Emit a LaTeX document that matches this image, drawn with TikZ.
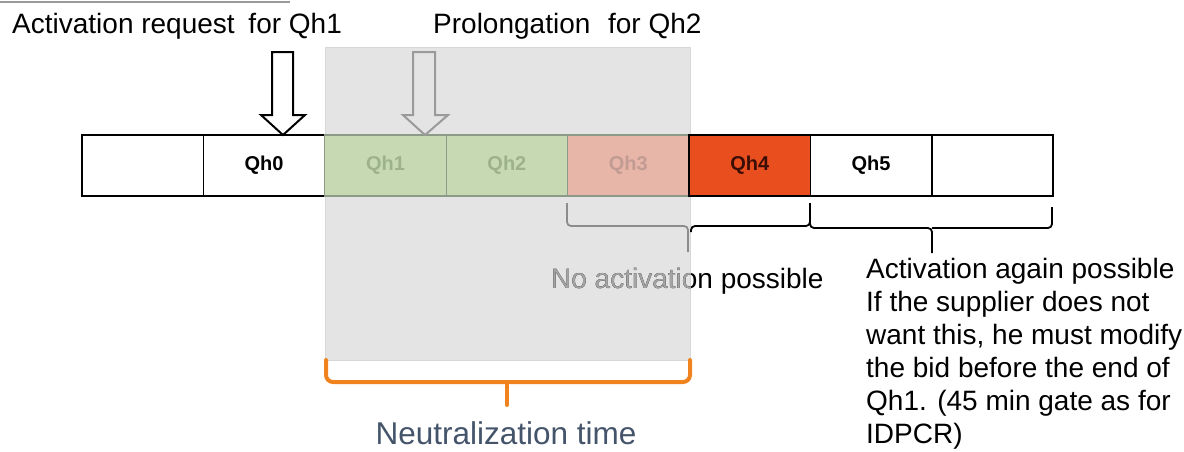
\documentclass[tikz,border=0pt]{standalone}
\usepackage{fontspec}
\setmainfont{Liberation Sans}
\definecolor{ovlfill}{HTML}{E4E4E4}
\definecolor{ovlline}{HTML}{D6D6D6}
\definecolor{greenfill}{HTML}{C6D9B2}
\definecolor{greentext}{HTML}{9DB28C}
\definecolor{pinkfill}{HTML}{E7B6A9}
\definecolor{pinktext}{HTML}{C29C92}
\definecolor{fadeline}{HTML}{8E9A88}
\definecolor{qhfour}{HTML}{E94E1E}
\definecolor{qhfourtext}{HTML}{3A0E04}
\definecolor{neutral}{HTML}{44546A}
\definecolor{bracegray}{HTML}{8C8C8C}
\definecolor{arrowgray}{HTML}{9A9A9A}
\definecolor{orangebr}{HTML}{F0831E}
\definecolor{fadetext}{HTML}{A4A4A4}
\begin{document}
\begin{tikzpicture}[x=1pt,y=-1pt,
  qbox/.style={draw=black,line width=1.6pt,minimum width=121.4pt,minimum height=61pt,inner sep=0pt,
    font=\fontsize{20}{23}\selectfont\bfseries},
  gbox/.style={qbox,draw=fadeline,line width=1.2pt,fill=greenfill,text=greentext},
  pbox/.style={qbox,draw=fadeline,line width=1.2pt,fill=pinkfill,text=pinktext},
  lbl/.style={font=\fontsize{28}{33}\selectfont,inner sep=0pt,anchor=base west},
  ovlbox/.style={fill=ovlfill,draw=ovlline,line width=1pt,inner sep=0pt,minimum width=365pt,minimum height=313pt},
  brblack/.style={draw=black,line width=1.8pt,rounded corners=4pt},
  brgray/.style={draw=bracegray,line width=1.8pt,rounded corners=4pt},
  brorange/.style={draw=orangebr,line width=4pt,rounded corners=7pt,line cap=round},
  bigarrow/.style={draw=black,line width=2pt,fill=white,line join=miter},
  fadearrow/.style={draw=arrowgray,line width=2pt,fill=ovlfill,line join=miter}]
\useasboundingbox (0,0) rectangle (1184,451);

% top edge line
\draw[draw=arrowgray,line width=1.5pt] (0,2) -- (290,2);

% neutralization overlay
\node[ovlbox] (ov) at (507.5,203.5) {};

% time slots
\node[qbox] (b0) at (142.7,165.5) {};
\node[qbox] (q0) at (264.1,165.5) {Qh0};
\node[gbox] (q1) at (385.5,165.5) {Qh1};
\node[gbox] (q2) at (506.9,165.5) {Qh2};
\node[pbox] (q3) at (628.3,165.5) {Qh3};
\node[qbox,fill=qhfour,text=qhfourtext] (q4) at (749.7,165.5) {Qh4};
\node[qbox] (q5) at (871.1,165.5) {Qh5};
\node[qbox] (b6) at (992.5,165.5) {};

% arrows
\draw[bigarrow] (272,52) -- (293,52) -- (293,115) -- (305,115) -- (283,135) -- (261,115) -- (272,115) -- cycle;
\draw[fadearrow] (413,52) -- (435,52) -- (435,115) -- (448,115) -- (425,135) -- (403,115) -- (413,115) -- cycle;

% braces below slots
\coordinate (a1) at (567,203);
\coordinate (a2) at (688,252);
\coordinate (a3) at (810,203);
\coordinate (a4) at (932,253);
\coordinate (a5) at (1052,207);
\draw[brgray] (a1) -- (567,226) -- (688,226) -- (a2);
\draw[brblack] (691,232) -- (691,226) -- (810,226) -- (a3);
\draw[brblack] (a3) -- (810,228) -- (932,228) -- (a4);
\draw[brblack] (932,228) -- (1052,228) -- (a5);

% orange brace
\coordinate (o1) at (326,360);
\coordinate (o2) at (690,360);
\coordinate (o3) at (507,405);
\draw[brorange] (o1) -- (326,382) -- (690,382) -- (o2);
\draw[brorange,rounded corners=0pt] (507,382) -- (o3);

% texts
\node[lbl] (t1) at (12,33) {Activation request\hspace{6pt} for Qh1};
\node[lbl] (t2) at (433,33) {Prolongation\hspace{10pt} for Qh2};
\node[lbl] (t3) at (551,288) {No activation possible};
\begin{scope}
  \clip (325,47) rectangle (690,360);
  \node[lbl,text=fadetext] (t3g) at (551,288) {No activation possible};
\end{scope}
\node[lbl,align=left] (t4) at (866,443) {Activation again possible\\If the supplier\ does not\\want this, he must modify\\the bid before the end of\\Qh1. (45 min gate as for\\IDPCR)};
\node[font=\fontsize{31.5}{36}\selectfont,text=neutral,inner sep=0pt,anchor=base] (t5) at (506,444) {Neutralization time};
\end{tikzpicture}
\end{document}
